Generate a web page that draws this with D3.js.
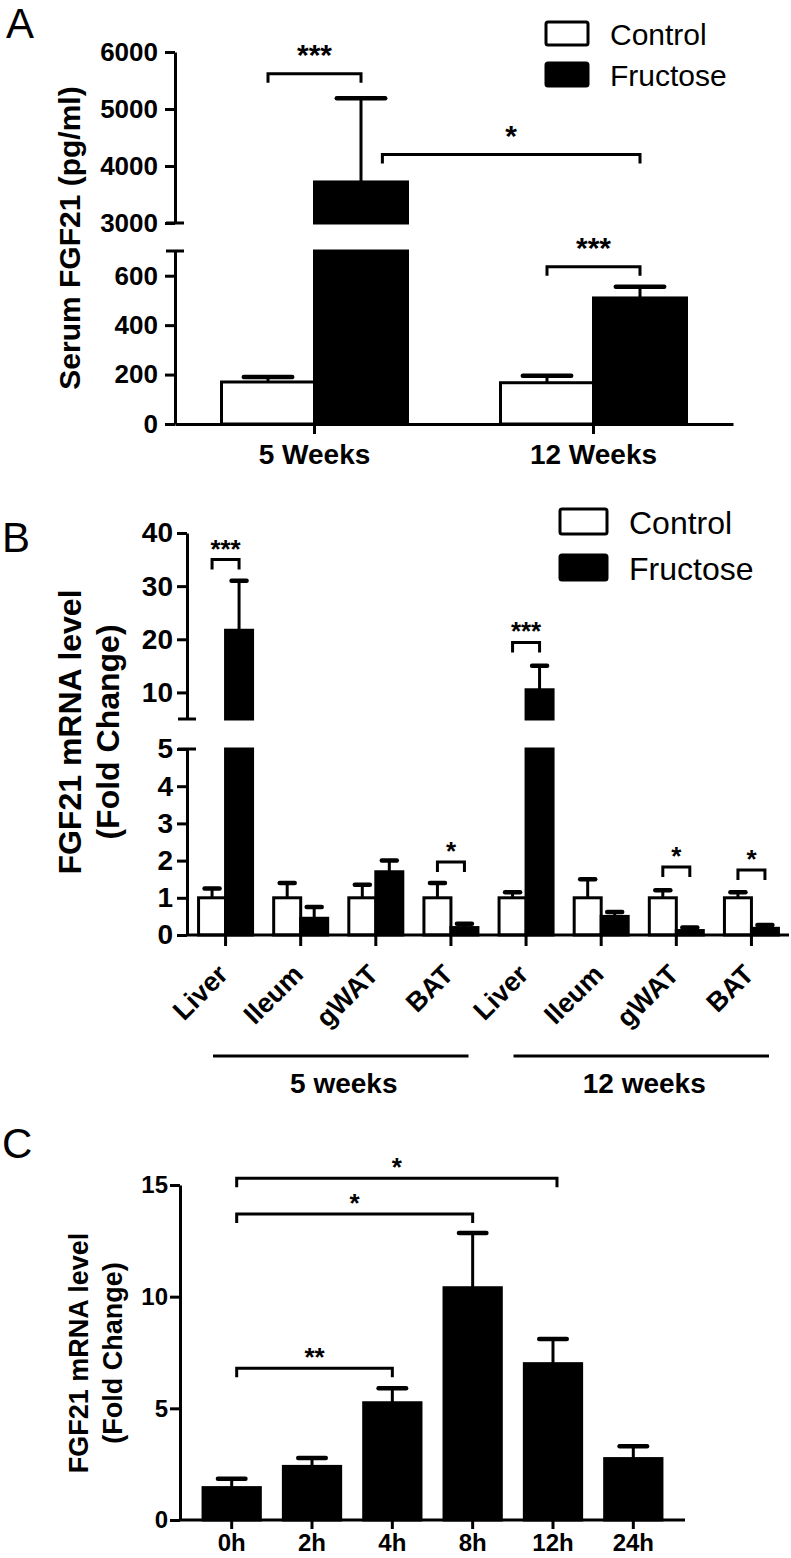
<!DOCTYPE html>
<html><head><meta charset="utf-8">
<script src="https://cdn.jsdelivr.net/npm/d3@7"></script>
<style>body{margin:0;background:#fff} svg text{font-family:"Liberation Sans",Arial,Helvetica,sans-serif;fill:#000}</style>
</head><body><svg id="c" width="791" height="1558"></svg>
<script>
// ---------------- DATA ----------------
// Panel A
const aGroups = ["5 Weeks", "12 Weeks"];
const aSeries = ["Control", "Fructose"];
const aControl = [170, 167];
const aControlErr = [190, 195];      // top of error bar
const aFructose = [3720, 510];
const aFructoseErr = [5190, 555];
const aTicksLow = [0, 200, 400, 600];
const aTicksHigh = [3000, 4000, 5000, 6000];
const aSigLabels = ["***", "*", "***"];
const aSigLevels = [5620, 4200, 636];

// Panel B
const bTissues = ["Liver", "Ileum", "gWAT", "BAT", "Liver", "Ileum", "gWAT", "BAT"];
const bPeriods = ["5 weeks", "12 weeks"];
const bControl = [1.0, 1.0, 1.0, 1.0, 1.0, 1.0, 1.0, 1.0];
const bControlErr = [1.25, 1.4, 1.35, 1.4, 1.15, 1.5, 1.2, 1.15];
const bFructose = [21.7, 0.45, 1.7, 0.2, 10.5, 0.5, 0.12, 0.18];
const bFructoseErr = [31, 0.75, 2.0, 0.3, 15, 0.62, 0.2, 0.27];
const bTicksLow = [0, 1, 2, 3, 4, 5];
const bTicksHigh = [10, 20, 30, 40];
const bSigIdx = [0, 3, 4, 6, 7];
const bSigLabels = ["***", "*", "***", "*", "*"];
const bSigLevels = [35, 1.96, 19.4, 1.83, 1.75];

// Panel C
const cTimes = ["0h", "2h", "4h", "8h", "12h", "24h"];
const cValues = [1.45, 2.4, 5.25, 10.4, 7.0, 2.75];
const cErr = [1.85, 2.78, 5.9, 12.85, 8.1, 3.3];
const cTicks = [0, 5, 10, 15];
const cSigTo = ["4h", "8h", "12h"];
const cSigLabels = ["**", "*", "*"];
const cSigLevels = [6.8, 13.7, 15.3];

// ---------------- DRAW ----------------
const svg = d3.select("#c");
svg.append("rect").attr("width", 791).attr("height", 1558).attr("fill", "#fff");
const SW = 3;
const fmt = d3.format("d");

function styleAxis(g, size) {
  g.selectAll("path,line").attr("stroke", "#000").attr("stroke-width", SW);
  g.selectAll("text").attr("font-size", size).attr("font-weight", "bold")
    .style("font-family", '"Liberation Sans", Arial, sans-serif').attr("fill", "#000");
}
function breakCap(g, x, y) {
  g.append("line").attr("x1", x - 9).attr("x2", x + 9).attr("y1", y).attr("y2", y)
    .attr("stroke", "#000").attr("stroke-width", SW);
}
function bar(g, x, w, y0, y1, fill) {
  g.append("rect").attr("x", x).attr("y", Math.min(y0, y1)).attr("width", w)
    .attr("height", Math.abs(y0 - y1)).attr("fill", fill)
    .attr("stroke", "#000").attr("stroke-width", SW);
}
function errBar(g, xc, yTop, yErr, capW) {
  g.append("line").attr("x1", xc).attr("x2", xc).attr("y1", yTop).attr("y2", yErr)
    .attr("stroke", "#000").attr("stroke-width", SW);
  g.append("line").attr("x1", xc - capW / 2).attr("x2", xc + capW / 2).attr("y1", yErr).attr("y2", yErr)
    .attr("stroke", "#000").attr("stroke-width", 4.5).attr("stroke-linecap", "round");
}
function bracket(g, x1, x2, y, h, label, size, off) {
  g.append("path").attr("d", `M${x1},${y + h}V${y}H${x2}V${y + h}`)
    .attr("fill", "none").attr("stroke", "#000").attr("stroke-width", SW);
  g.append("text").attr("x", (x1 + x2) / 2).attr("y", y - off).attr("text-anchor", "middle")
    .attr("font-size", size).attr("font-weight", "bold").text(label);
}
function legend(g, x, y, gap, bw, bh, size, tx) {
  aSeries.forEach((s, i) => {
    g.append("rect").attr("x", x).attr("y", y + i * gap).attr("width", bw).attr("height", bh)
      .attr("rx", 2).attr("fill", i ? "#000" : "#fff").attr("stroke", "#000").attr("stroke-width", SW);
    g.append("text").attr("x", tx).attr("y", y + i * gap + bh).attr("font-size", size).text(s);
  });
}
function panelLabel(t, x, y) {
  svg.append("text").attr("x", x).attr("y", y).attr("font-size", 42).text(t);
}
function yLabel(g, x, y, lines, size, lh) {
  lines.forEach((l, i) => {
    g.append("text").attr("transform", `translate(${x + i * lh},${y}) rotate(-90)`)
      .attr("text-anchor", "middle").attr("font-size", size).attr("font-weight", "bold").text(l);
  });
}

// ======== Panel A ========
{
  const g = svg.append("g");
  const axX = 175;
  const xA = d3.scaleBand().domain(aGroups).range([axX, 733]).padding(0);
  const yLow = d3.scaleLinear().domain([0, 700]).range([424, 251]);
  const yHigh = d3.scaleLinear().domain([3000, 6000]).range([223, 52]);
  const yv = v => v <= 700 ? yLow(v) : yHigh(v);
  const bw = xA.bandwidth() / 3;
  const center = (gi, s) => xA(aGroups[gi]) + xA.bandwidth() / 2 + (s === 0 ? -bw / 2 : bw / 2);

  const vals = [aControl, aFructose], errs = [aControlErr, aFructoseErr];
  [0, 1].forEach(s => aGroups.forEach((grp, gi) => {
    const v = vals[s][gi], xc = center(gi, s);
    if (v <= 700) bar(g, xc - bw / 2, bw, yLow(0), yLow(v), s ? "#000" : "#fff");
    else {
      bar(g, xc - bw / 2, bw, yLow(0), yLow(700), "#000");
      bar(g, xc - bw / 2, bw, yHigh(3000), yHigh(v), "#000");
    }
    errBar(g, xc, yv(v), yv(errs[s][gi]), bw * 0.52);
  }));

  const gl = g.append("g").attr("transform", `translate(${axX},0)`)
    .call(d3.axisLeft(yLow).tickValues(aTicksLow).tickFormat(fmt).tickSize(10).tickSizeOuter(0).tickPadding(7));
  styleAxis(gl, 26);
  const gh = g.append("g").attr("transform", `translate(${axX},0)`)
    .call(d3.axisLeft(yHigh).tickValues(aTicksHigh).tickFormat(fmt).tickSize(10).tickSizeOuter(0).tickPadding(7));
  styleAxis(gh, 26);
  breakCap(g, axX, yLow(700));
  breakCap(g, axX, yHigh(3000));
  const gx = g.append("g").attr("transform", `translate(0,${yLow(0)})`)
    .call(d3.axisBottom(xA).tickSize(10).tickSizeOuter(0).tickPadding(10));
  styleAxis(gx, 28);

  // significance
  const pairs = [[[0, 0], [0, 1]], [[0, 1], [1, 1]], [[1, 0], [1, 1]]];
  pairs.forEach((p, i) => {
    let x1 = center(p[0][0], p[0][1]), x2 = center(p[1][0], p[1][1]);
    if (p[0][0] !== p[1][0]) x1 += bw * 0.23;
    bracket(g, x1, x2, yv(aSigLevels[i]), 9, aSigLabels[i], 30, 9);
  });

  legend(g, 546, 22, 41, 42, 23, 30, 610);
  yLabel(g, 80, 238, ["Serum FGF21 (pg/ml)"], 30, 0);
  panelLabel("A", 6, 38);
}

// ======== Panel B ========
{
  const g = svg.append("g");
  const axX = 187;
  const idx = d3.range(bTissues.length);
  const xB = d3.scaleBand().domain(idx).range([188, 789]).padding(0);
  const yLow = d3.scaleLinear().domain([0, 5]).range([935, 749]);
  const yHigh = d3.scaleLinear().domain([5, 40]).range([719, 533]);
  const yv = v => v <= 5 ? yLow(v) : yHigh(v);
  const bw = 27;
  const center = (i, s) => xB(i) + xB.bandwidth() / 2 + (s === 0 ? -bw / 2 : bw / 2);

  const vals = [bControl, bFructose], errs = [bControlErr, bFructoseErr];
  [0, 1].forEach(s => idx.forEach(i => {
    const v = vals[s][i], xc = center(i, s);
    if (v <= 5) bar(g, xc - bw / 2, bw, yLow(0), yLow(v), s ? "#000" : "#fff");
    else {
      bar(g, xc - bw / 2, bw, yLow(0), yLow(5), "#000");
      bar(g, xc - bw / 2, bw, yHigh(5), yHigh(v), "#000");
    }
    errBar(g, xc, yv(v), yv(errs[s][i]), 15);
  }));

  const gl = g.append("g").attr("transform", `translate(${axX},0)`)
    .call(d3.axisLeft(yLow).tickValues(bTicksLow).tickFormat(fmt).tickSize(10).tickSizeOuter(0).tickPadding(4));
  styleAxis(gl, 28);
  const gh = g.append("g").attr("transform", `translate(${axX},0)`)
    .call(d3.axisLeft(yHigh).tickValues(bTicksHigh).tickFormat(fmt).tickSize(10).tickSizeOuter(0).tickPadding(4));
  styleAxis(gh, 28);
  breakCap(g, axX, yLow(5));
  breakCap(g, axX, yHigh(5));
  const gx = g.append("g").attr("transform", `translate(0,${yLow(0)})`)
    .call(d3.axisBottom(xB).tickSize(11).tickSizeOuter(0).tickFormat(""));
  styleAxis(gx, 27);
  gx.select(".domain").attr("d", `M${axX},0H789`);

  idx.forEach(i => {
    const c = xB(i) + xB.bandwidth() / 2;
    g.append("text").attr("transform", `translate(${c + 4},${yLow(0) + 41}) rotate(-45)`)
      .attr("text-anchor", "end").attr("font-size", 27).attr("font-weight", "bold").text(bTissues[i]);
  });
  bPeriods.forEach((p, k) => {
    const x1 = xB(k * 4) + 25, x2 = xB(k * 4 + 3) + xB.bandwidth() - 20;
    g.append("line").attr("x1", x1).attr("x2", x2).attr("y1", 1056).attr("y2", 1056)
      .attr("stroke", "#000").attr("stroke-width", SW);
    g.append("text").attr("x", (x1 + x2) / 2 + 3).attr("y", 1093).attr("text-anchor", "middle")
      .attr("font-size", 28).attr("font-weight", "bold").text(p);
  });

  bSigIdx.forEach((i, k) => {
    bracket(g, center(i, 0), center(i, 1), yv(bSigLevels[k]), 10, bSigLabels[k], 26, 2);
  });

  legend(g, 560, 509, 46, 47, 25, 32, 629);
  yLabel(g, 81, 732, ["FGF21 mRNA level", "(Fold Change)"], 32, 38);
  panelLabel("B", 2, 552);
}

// ======== Panel C ========
{
  const g = svg.append("g");
  const axX = 180;
  const xC = d3.scaleBand().domain(cTimes).range([axX, 685]).padding(0.287).align(0.5);
  const yC = d3.scaleLinear().domain([0, 15]).range([1520, 1185]);
  const bw = xC.bandwidth();
  const cx = t => xC(t) + bw / 2;
  cTimes.forEach((t, i) => {
    bar(g, xC(t), bw, yC(0), yC(cValues[i]), "#000");
    errBar(g, cx(t), yC(cValues[i]), yC(cErr[i]), bw * 0.48);
  });
  const gy = g.append("g").attr("transform", `translate(${axX},0)`)
    .call(d3.axisLeft(yC).tickValues(cTicks).tickFormat(fmt).tickSize(10).tickSizeOuter(0).tickPadding(2));
  styleAxis(gy, 24);
  const gx = g.append("g").attr("transform", `translate(0,${yC(0)})`)
    .call(d3.axisBottom(xC).tickSize(9).tickSizeOuter(0).tickPadding(5));
  styleAxis(gx, 24);
  gx.select(".domain").attr("d", `M${axX},0H685`);

  cSigTo.forEach((t, k) => {
    bracket(g, cx(cTimes[0]) + 5, cx(t) + (k === 2 ? 4 : 0), yC(cSigLevels[k]), 9, cSigLabels[k], 26, 2);
  });
  yLabel(g, 88, 1353, ["FGF21 mRNA level", "(Fold Change)"], 27, 34);
  panelLabel("C", 2, 1158);
}
</script></body></html>
